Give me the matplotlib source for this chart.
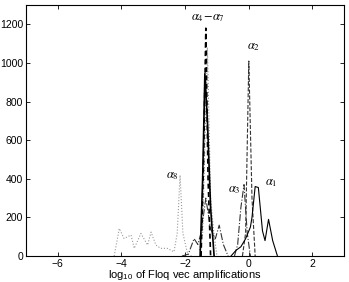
import matplotlib
matplotlib.use("Agg")
import matplotlib.pyplot as plt

# alpha_1 (solid)
A1_X = [-0.56, -0.4, -0.25, -0.1, 0.05, 0.1, 0.2, 0.3, 0.43, 0.51, 0.62, 0.75, 0.9]
A1_Y = [0, 30, 48, 90, 150, 200, 360, 355, 130, 80, 190, 80, 0]
# alpha_2 (dashed)
A2_X = [-0.2, -0.1, 0.0, 0.1, 0.2]
A2_Y = [0, 120, 1010, 300, 0]
# alpha_3 (dash-dot)
A3_X = [-0.45, -0.35, -0.25, -0.15, -0.05, 0.05]
A3_Y = [0, 60, 250, 370, 120, 0]
# alpha_4..alpha_7 group
A4_X = [-1.53, -1.45, -1.38, -1.3, -1.2, -1.09]
A4_Y = [0, 400, 945, 700, 250, 0]
A5_X = [-1.5, -1.42, -1.35, -1.28, -1.2]
A5_Y = [0, 500, 1180, 400, 0]
A6_X = [-1.55, -1.45, -1.3, -1.2, -1.1, -1.0]
A6_Y = [30, 120, 1080, 300, 120, 0]
A7_X = [-2.1, -1.9, -1.72, -1.6, -1.5, -1.35, -1.2, -1.05, -0.93, -0.8, -0.65]
A7_Y = [0, 10, 90, 60, 120, 300, 140, 90, 160, 60, 0]
# alpha_8 (dotted)
A8_X = [-4.23, -4.07, -3.92, -3.7, -3.6, -3.39, -3.18, -3.07, -2.92, -2.77,
        -2.56, -2.35, -2.25, -2.16, -2.07, -1.92, -1.8]
A8_Y = [0, 143, 91, 109, 40, 117, 57, 124, 57, 40, 40, 22, 117, 419, 117, 10, 0]

LABELS = [r"$\alpha_4\!-\!\alpha_7$", r"$\alpha_2$", r"$\alpha_8$", r"$\alpha_3$", r"$\alpha_1$"]
LABEL_X = [-1.29, 0.16, -2.41, -0.44, 0.69]
LABEL_Y = [1200, 1050, 385, 310, 345]

plt.rcParams["font.family"] = ["Liberation Sans", "DejaVu Sans"]
plt.rcParams["mathtext.fontset"] = "custom"
plt.rcParams["mathtext.rm"] = "Liberation Sans"
plt.rcParams["mathtext.it"] = "Liberation Sans"
plt.rcParams["font.size"] = 7.5

fig = plt.figure(figsize=(3.49, 2.82), dpi=100)
ax = fig.add_axes([0.0745, 0.092, 0.912, 0.89])

lw = 0.8
ax.plot(A8_X, A8_Y, color="#999999", linestyle=":", linewidth=lw)
ax.plot(A7_X, A7_Y, color="#333333", linestyle="-.", linewidth=lw)
ax.plot(A6_X, A6_Y, color="#888888", linestyle=":", linewidth=lw)
ax.plot(A5_X, A5_Y, color="black", linestyle=(0, (3, 2)), linewidth=1.2)
ax.plot(A4_X, A4_Y, color="black", linestyle="-", linewidth=1.2)
ax.plot(A3_X, A3_Y, color="#333333", linestyle="-.", linewidth=lw)
ax.plot(A2_X, A2_Y, color="#333333", linestyle="--", linewidth=lw)
ax.plot(A1_X, A1_Y, color="black", linestyle="-", linewidth=lw)

for lab, lx, ly in zip(LABELS, LABEL_X, LABEL_Y):
    ax.text(lx, ly, lab, ha="center", va="bottom", fontsize=9, math_fontfamily="stix")

ax.set_xlim(-7, 3)
ax.set_ylim(0, 1300)
ax.set_xticks([-6, -4, -2, 0, 2])
ax.set_xticklabels(["\u22126", "\u22124", "\u22122", "0", "2"])
ax.set_yticks([0, 200, 400, 600, 800, 1000, 1200])
ax.tick_params(direction="in", top=True, right=True, length=3, width=0.6, pad=2)
for s in ax.spines.values():
    s.set_linewidth(0.8)
ax.set_xlabel(r"log$_{10}$ of Floq vec amplifications", fontsize=8, labelpad=-0.8)

fig.savefig("out.png", dpi=100)
